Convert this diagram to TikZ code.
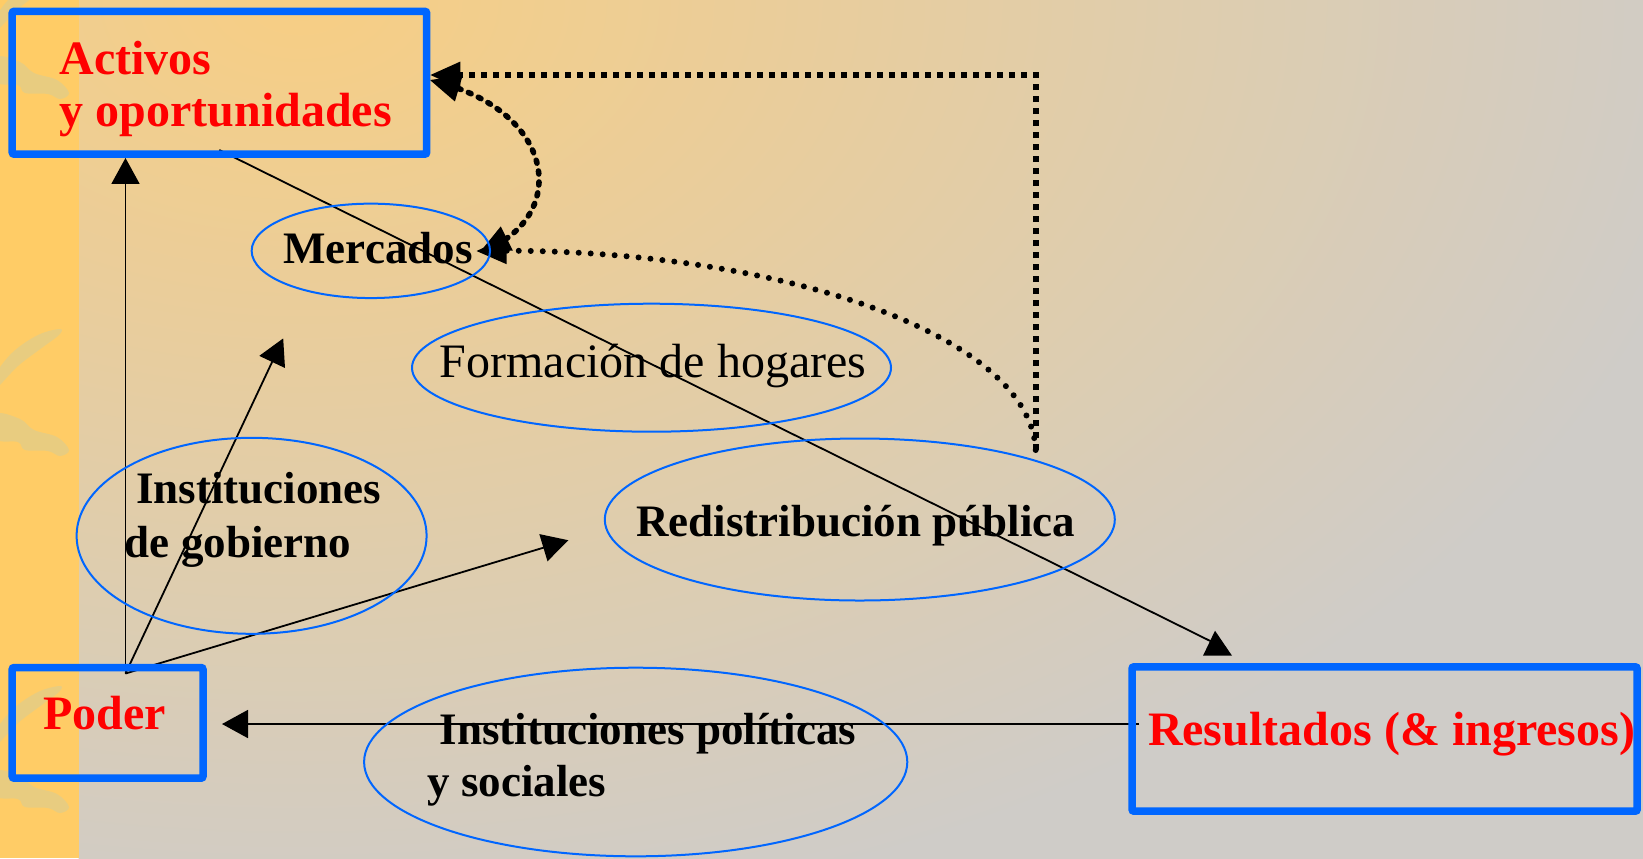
\documentclass[tikz,border=0pt]{standalone}
\usepackage{fontspec}
\setmainfont{Liberation Serif}
\usetikzlibrary{shapes.geometric,arrows.meta,bending}
\definecolor{boxblue}{RGB}{0,102,255}
\definecolor{stripcol}{RGB}{255,204,102}
\definecolor{blobcol}{RGB}{232,204,128}
\definecolor{bgA}{RGB}{247,206,132}
\definecolor{bgB}{RGB}{207,204,200}
\definecolor{labred}{RGB}{255,0,0}
\pgfdeclareradialshading{bgshade}{\pgfpoint{0bp}{0bp}}{color(0bp)=(bgA); color(18bp)=(bgB); color(50bp)=(bgB)}
\pgfdeclarelayer{bglayer}
\pgfdeclarelayer{connlayer}
\pgfsetlayers{bglayer,connlayer,main}
\tikzset{
  bigbox/.style={rectangle, draw=boxblue, line width=3.75pt, rounded corners=1pt, inner sep=0pt},
  oval/.style={ellipse, draw=boxblue, line width=1pt, inner sep=0pt},
  redlab/.style={text=labred, font=\fontsize{24}{28}\selectfont\bfseries, anchor=base west, inner sep=0pt},
  blklab/.style={text=black, font=\fontsize{22.5}{27}\selectfont\bfseries, anchor=base west, inner sep=0pt},
  reglab/.style={text=black, font=\fontsize{24}{28}\selectfont, anchor=base west, inner sep=0pt},
  thinline/.style={draw=black, line width=0.9pt},
  thinarrow/.style={thinline, -{Triangle[length=13pt,width=14pt]}},
  bigtip/.tip={Triangle[length=15pt,width=13.5pt,line width=0pt]},
  sqdotted/.style={draw=black, line width=3pt, dash pattern=on 3pt off 3pt, -bigtip},
  rddotted/.style={draw=black, line width=3pt, line cap=round, dash pattern=on 0pt off 6pt, -bigtip},
  dashedarc/.style={draw=black, line width=2.8pt, line cap=round, dash pattern=on 1.5pt off 4pt, bigtip-bigtip}
}
\begin{document}
\begin{tikzpicture}[x=0.5pt,y=-0.5pt]
\useasboundingbox (0,0) rectangle (1643,858);
% background
\begin{pgfonlayer}{bglayer}
  \fill[bgB] (0,0) rectangle (1643,858);
  \begin{scope}
    \clip (78.5,0) rectangle (1643,858);
    \shade[shading=bgshade] (300,0) ellipse [x radius=2000, y radius=1300];
  \end{scope}
  \fill[stripcol] (0,0) rectangle (78.5,858);
  \begin{scope}
    \clip (0,0) rectangle (78.5,858);
    \foreach \dy in {-357,0,357} {
      \fill[blobcol, shift={(0,\dy)}] plot[smooth cycle, tension=0.6] coordinates
        {(-4,374) (13,352) (38,335) (60,329) (59,335) (43,347) (18,366) (-4,388)};
      \fill[blobcol, shift={(0,\dy)}] plot[smooth cycle, tension=0.6] coordinates
        {(-4,414) (20,419) (34,430) (57,437) (69,450) (60,456) (48,451) (25,450) (18,442) (-4,439)};
    }
  \end{scope}
\end{pgfonlayer}

% boxes
\node[bigbox, minimum width=207.25pt, minimum height=71.45pt] (activos) at (219.45,82.75) {};
\node[bigbox, minimum width=95.4pt, minimum height=55.35pt] (poder) at (107.6,722.85) {};
\node[bigbox, minimum width=252.6pt, minimum height=72.2pt] (result) at (1384.6,739) {};

% ovals
\node[oval, minimum width=119.2pt, minimum height=47.2pt] (mercados) at (370.85,250.85) {};
\node[oval, minimum width=239.5pt, minimum height=64pt] (formacion) at (651.5,367.7) {};
\node[oval, minimum width=255pt, minimum height=81pt] (redis) at (859.8,519.5) {};
\node[oval, minimum width=175pt, minimum height=98pt] (gobierno) at (251.6,535.8) {};
\node[oval, minimum width=271.6pt, minimum height=94.3pt] (politicas) at (635.7,762) {};

% labels
\node[redlab] (lActivos) at (59.3,74) {Activos};
\node[redlab] (lOport) at (59.3,126) {y oportunidades};
\node[redlab] (lPoder) at (43,729) {Poder};
\node[redlab] (lResult) at (1147.6,745.7) {Resultados (\& ingresos)};
\node[blklab] (lMerc) at (283,263.3) {Mercados};
\node[reglab] (lForm) at (439.3,377.7) {Formación de hogares};
\node[blklab] (lRedis) at (635.8,536) {Redistribución pública};
\node[blklab] (lGob1) at (136,503.6) {Instituciones};
\node[blklab] (lGob2) at (124.4,557) {de gobierno};
\node[blklab] (lPol1) at (439.5,744) {Instituciones políticas};
\node[blklab] (lPol2) at (427.3,796.7) {y sociales};

% connectors
\coordinate (p0) at (125.5,673.5);
\coordinate (g1) at (283.2,338.4);
\coordinate (g2) at (568.3,540.2);
\coordinate (a0) at (219.3,150);
\coordinate (r0) at (1211.7,641.7);
\coordinate (r1) at (1139,724);
\coordinate (pe) at (222,724);
\coordinate (d0) at (1035.7,450);
\coordinate (d1) at (1035.7,75);
\coordinate (m1) at (476.5,251);
\coordinate (ae) at (430,80);
\coordinate (m2) at (480,252);
\begin{pgfonlayer}{connlayer}
  \draw[thinarrow] (p0) -- (p0 |- activos.south);
  \draw[thinarrow] (p0) -- (g1);
  \draw[thinarrow] (p0) -- (g2);
  \draw[thinline] (a0) -- (r0);
  \fill[black] (1215,630.7) -- (1203,655.7) -- (1232,655.7) -- cycle;
  \draw[thinarrow] (r1) -- (pe);
  \draw[sqdotted] (d0) -- (d1) -- (d1 -| activos.east);
  \draw[rddotted] (d0) .. controls (1030,330) and (760,245) .. (m1);
  \draw[dashedarc] (ae) .. controls (560,110) and (570,220) .. (m2);
\end{pgfonlayer}
\end{tikzpicture}
\end{document}
